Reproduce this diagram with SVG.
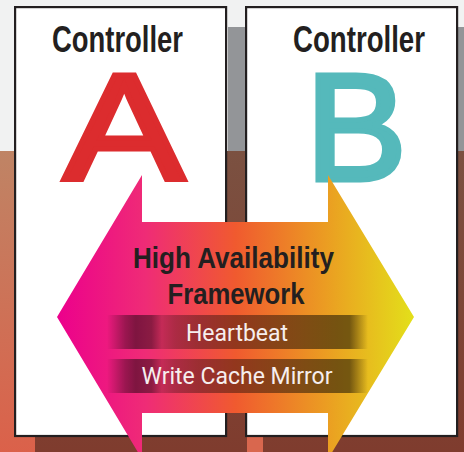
<svg xmlns="http://www.w3.org/2000/svg" width="464" height="452" viewBox="0 0 464 452">
  <defs>
    <linearGradient id="leftStrip" x1="0" y1="151" x2="0" y2="452" gradientUnits="userSpaceOnUse">
      <stop offset="0" stop-color="#bf8465"/>
      <stop offset="1" stop-color="#db614a"/>
    </linearGradient>
    <linearGradient id="brownBg" x1="0" y1="151" x2="0" y2="452" gradientUnits="userSpaceOnUse">
      <stop offset="0" stop-color="#7b5141"/>
      <stop offset="1" stop-color="#7f3c2e"/>
    </linearGradient>
    <linearGradient id="arrowGrad" x1="57" y1="0" x2="414" y2="0" gradientUnits="userSpaceOnUse">
      <stop offset="0" stop-color="#ec008c"/>
      <stop offset="0.25" stop-color="#ef2c76"/>
      <stop offset="0.5" stop-color="#f05a2f"/>
      <stop offset="0.75" stop-color="#eb9c22"/>
      <stop offset="1" stop-color="#e3e01a"/>
    </linearGradient>
    <linearGradient id="barGrad" x1="107" y1="0" x2="368" y2="0" gradientUnits="userSpaceOnUse">
      <stop offset="0" stop-color="#000" stop-opacity="0"/>
      <stop offset="0.07" stop-color="#000" stop-opacity="0.35"/>
      <stop offset="0.11" stop-color="#000" stop-opacity="0.47"/>
      <stop offset="0.17" stop-color="#000" stop-opacity="0.42"/>
      <stop offset="0.21" stop-color="#000" stop-opacity="0.18"/>
      <stop offset="0.26" stop-color="#000" stop-opacity="0.28"/>
      <stop offset="0.35" stop-color="#000" stop-opacity="0.35"/>
      <stop offset="0.88" stop-color="#000" stop-opacity="0.5"/>
      <stop offset="0.93" stop-color="#000" stop-opacity="0.5"/>
      <stop offset="1" stop-color="#000" stop-opacity="0"/>
    </linearGradient>
  </defs>
  <style>
    .box { fill: #ffffff; stroke: #231f20; stroke-width: 2.2; }
    .ctl { font-family: "Liberation Sans Narrow", "Liberation Sans", Arial, sans-serif; font-weight: bold; font-size: 36px; fill: #231f20; }
    .big { font-family: "Liberation Sans", Arial, sans-serif; font-size: 152px; stroke-width: 5; stroke-linejoin: miter; }
    .haf { font-family: "Liberation Sans Narrow", "Liberation Sans", Arial, sans-serif; font-weight: bold; font-size: 30px; fill: #231f20; text-anchor: middle; }
    .bar { fill: url(#barGrad); }
    .lbl { font-family: Roboto, "Liberation Sans", sans-serif; font-size: 23px; fill: #f6eeee; text-anchor: middle; }
  </style>

  <!-- background -->
  <rect x="0" y="0" width="464" height="452" fill="#f1f2f2"/>
  <rect x="228" y="27" width="236" height="124" fill="#939598"/>
  <rect x="0" y="151" width="464" height="301" fill="url(#brownBg)"/>
  <rect x="0" y="151" width="35" height="301" fill="url(#leftStrip)"/>
  <rect x="247" y="300" width="16" height="152" fill="#d9674e"/>

  <!-- node: Controller A -->
  <g id="controller-a">
    <rect class="box" x="15.1" y="7.1" width="211" height="428.9"/>
    <text class="ctl" x="52" y="52" textLength="131" lengthAdjust="spacingAndGlyphs">Controller</text>
    <text class="big" x="63.5" y="179.5" fill="#dc2c2e" stroke="#dc2c2e" textLength="121" lengthAdjust="spacingAndGlyphs">A</text>
  </g>

  <!-- node: Controller B -->
  <g id="controller-b">
    <rect class="box" x="246.1" y="7.1" width="211" height="428.9"/>
    <text class="ctl" x="293" y="52" textLength="132" lengthAdjust="spacingAndGlyphs">Controller</text>
    <text class="big" x="305.5" y="179.5" fill="#55b9bb" stroke="#55b9bb">B</text>
  </g>

  <!-- connectors: High Availability Framework double arrow -->
  <g id="connectors">
    <g id="ha-framework">
      <polygon points="57,317 142,175 142,222 328,222 328,175 414,317 328,459 328,413 142,413 142,459" fill="url(#arrowGrad)"/>
      <text class="haf" x="233.5" y="268" textLength="201" lengthAdjust="spacingAndGlyphs">High Availability</text>
      <text class="haf" x="236" y="304" textLength="137" lengthAdjust="spacingAndGlyphs">Framework</text>
      <g id="heartbeat">
        <rect class="bar" x="107" y="315" width="261" height="34"/>
        <text class="lbl" x="237" y="341">Heartbeat</text>
      </g>
      <g id="write-cache-mirror">
        <rect class="bar" x="107" y="359" width="261" height="34"/>
        <text class="lbl" x="237" y="384">Write Cache Mirror</text>
      </g>
    </g>
  </g>
</svg>
